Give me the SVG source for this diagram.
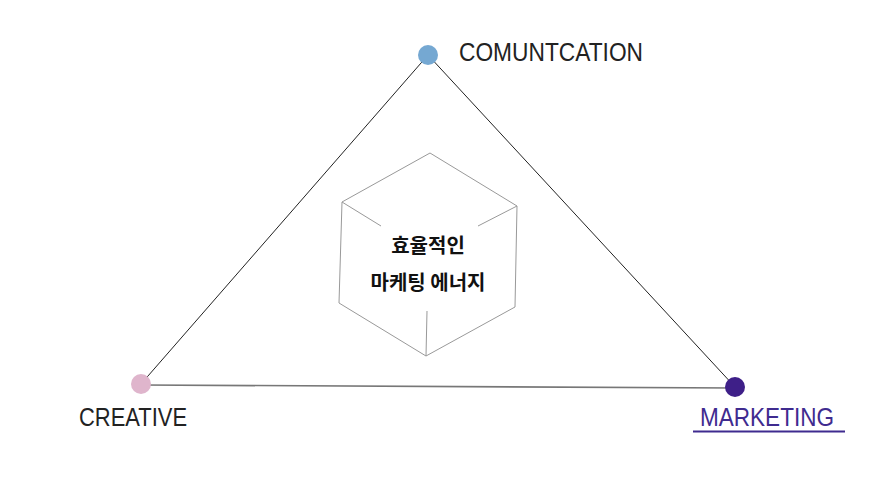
<svg xmlns="http://www.w3.org/2000/svg" width="887" height="490" viewBox="0 0 887 490">
<style>
.lbl{font-family:"Liberation Sans","DejaVu Sans",sans-serif;font-size:25px;fill:#222}
.ko{font-family:"Noto Sans CJK KR","Noto Sans",sans-serif;font-size:20px;font-weight:bold;fill:#111;text-anchor:middle}
.cube{fill:none;stroke:#999;stroke-width:1}
</style>
<rect width="887" height="490" fill="#fff"/>
<g id="connectors">
<line x1="428" y1="55" x2="141" y2="384" stroke="#222" stroke-width="1"/>
<line x1="428" y1="55" x2="735" y2="387" stroke="#222" stroke-width="1"/>
<line x1="141" y1="385" x2="735" y2="388" stroke="#777" stroke-width="1.6"/>
</g>
<g id="cube">
<polygon class="cube" points="430,153 517,206 515,307 426,356 339,303 342,202"/>
<line class="cube" x1="342" y1="202" x2="381" y2="226"/>
<line class="cube" x1="517" y1="206" x2="478" y2="226"/>
<line class="cube" x1="426" y1="356" x2="427" y2="311"/>
<text class="ko" x="428" y="253">효율적인</text>
<text class="ko" x="428" y="290">마케팅 에너지</text>
</g>
<g id="communication">
<circle cx="428" cy="55" r="10" fill="#75a8d2"/>
<text class="lbl" x="459" y="61" textLength="184" lengthAdjust="spacingAndGlyphs">COMUNTCATION</text>
</g>
<g id="creative">
<circle cx="141" cy="384" r="10" fill="#dfb5cc"/>
<text class="lbl" x="79" y="426" textLength="108" lengthAdjust="spacingAndGlyphs">CREATIVE</text>
</g>
<g id="marketing">
<circle cx="735" cy="387" r="10" fill="#3e1f88"/>
<text class="lbl" x="700" y="426" textLength="134" lengthAdjust="spacingAndGlyphs" style="fill:#3f2b8f">MARKETING</text>
<line x1="693" y1="431.5" x2="845" y2="431.5" stroke="#3f2b8f" stroke-width="2"/>
</g>
</svg>
